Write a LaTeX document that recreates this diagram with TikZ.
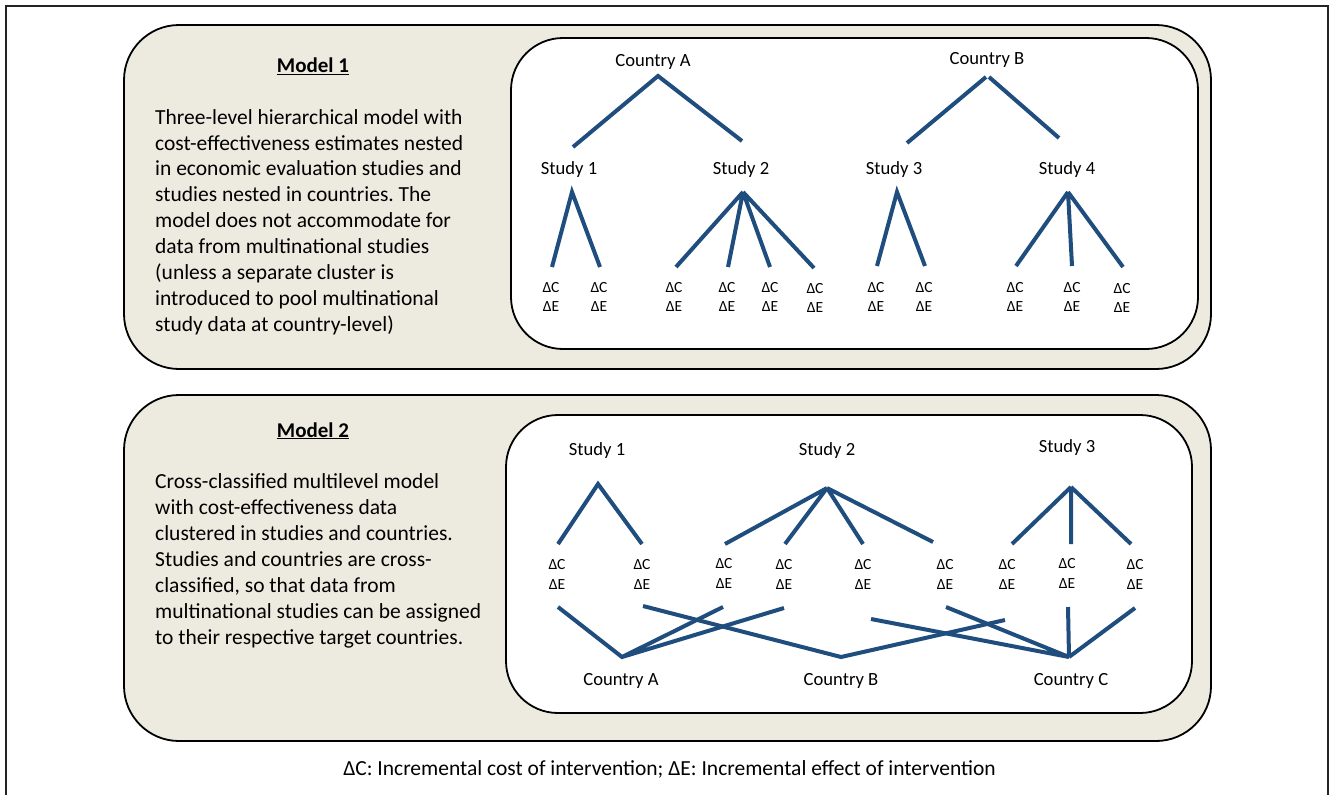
\documentclass[tikz,border=0pt]{standalone}
\usepackage{fontspec}
\setmainfont{Carlito}
\frenchspacing
\definecolor{beige}{RGB}{237,235,224}
\definecolor{treeblue}{RGB}{31,78,126}
\definecolor{framegray}{RGB}{35,35,35}
\tikzset{
  panel/.style={draw=black, line width=1.8pt, fill=beige, rounded corners=55pt},
  innerpanel/.style={draw=black, line width=1.8pt, fill=white, rounded corners=52pt},
  branch/.style={draw=treeblue, line width=4pt},
  lab/.style={font=\fontsize{18.6}{22}\selectfont, inner sep=0pt, anchor=base},
  delta/.style={font=\fontsize{15.5}{19.5}\selectfont, align=center, inner sep=0pt, anchor=center},
  body/.style={font=\fontsize{21.5}{25.9}\selectfont, align=left, inner sep=0pt, anchor=north west},
  ttl/.style={font=\fontsize{21}{25}\selectfont\bfseries, inner sep=0pt, anchor=base},
  caption/.style={font=\fontsize{21.5}{25}\selectfont, inner sep=0pt, anchor=base},
}
\begin{document}
\begin{tikzpicture}[x=1pt,y=-1pt]
\useasboundingbox (0,0) rectangle (1329,795);
% outer frame
\draw[framegray, line width=2pt] (6,795) -- (6,6) -- (1328,6) -- (1328,795);

% ---------------- Model 1 ----------------
\draw[panel] (124,25) rectangle (1211,369);
\draw[innerpanel] (511,38) rectangle (1198,349);
\node[ttl] (t1) at (313,72.5) {\underline{Model 1}};
\node[body] (b1) at (155,109) {Three-level hierarchical model with\\
cost-effectiveness estimates nested\\
in economic evaluation studies and\\
studies nested in countries. The\\
model does not accommodate for\\
data from multinational studies\\
(unless a separate cluster is\\
introduced to pool multinational\\
study data at country-level)};

\node[lab] (cA) at (653,66) {Country A};
\node[lab] (cB) at (987,64) {Country B};
\node[lab] (s1) at (569,174) {Study 1};
\node[lab] (s2) at (741,174) {Study 2};
\node[lab] (s3) at (894,174) {Study 3};
\node[lab] (s4) at (1067,174) {Study 4};

\coordinate (cAx) at (658,76);
\coordinate (cBxl) at (986,77);
\coordinate (cBxr) at (989,77);
\coordinate (s1u) at (573,147);
\coordinate (s2u) at (742,141);
\coordinate (s3u) at (907,143);
\coordinate (s4u) at (1059,138);
\draw[branch] (s1u) -- (cAx) -- (s2u);
\draw[branch] (s3u) -- (cBxl);
\draw[branch] (cBxr) -- (s4u);

\coordinate (s1x) at (572,192);
\coordinate (s2x) at (743,192);
\coordinate (s3x) at (897,192);
\coordinate (s4x) at (1068,192);
\coordinate (e1) at (552,267);
\coordinate (e2) at (600,267);
\coordinate (e3) at (676,267);
\coordinate (e4) at (728,267);
\coordinate (e5) at (770,267);
\coordinate (e6) at (814,268);
\coordinate (e7) at (877,266);
\coordinate (e8) at (925,266);
\coordinate (e9) at (1016,266);
\coordinate (e10) at (1072,266);
\coordinate (e11) at (1123,267);
\draw[branch] (e1) -- (s1x) -- (e2);
\draw[branch] (s2x) -- (e3) (s2x) -- (e4) (s2x) -- (e5) (s2x) -- (e6);
\draw[branch] (e7) -- (s3x) -- (e8);
\draw[branch] (s4x) -- (e9) (s4x) -- (e10) (s4x) -- (e11);

\node[delta] (d1) at (551,297) {ΔC\\ΔE};
\node[delta] (d2) at (599,297) {ΔC\\ΔE};
\node[delta] (d3) at (674,297) {ΔC\\ΔE};
\node[delta] (d4) at (727,297) {ΔC\\ΔE};
\node[delta] (d5) at (770,297) {ΔC\\ΔE};
\node[delta] (d6) at (815,298) {ΔC\\ΔE};
\node[delta] (d7) at (876,297) {ΔC\\ΔE};
\node[delta] (d8) at (924,297) {ΔC\\ΔE};
\node[delta] (d9) at (1015,297) {ΔC\\ΔE};
\node[delta] (d10) at (1072,297) {ΔC\\ΔE};
\node[delta] (d11) at (1122,298) {ΔC\\ΔE};

% ---------------- Model 2 ----------------
\draw[panel] (124,395) rectangle (1211,741);
\draw[innerpanel] (506,415) rectangle (1192,713);
\node[ttl] (t2) at (313,437) {\underline{Model 2}};
\node[body] (b2) at (155,473.5) {Cross-classified multilevel model\\
with cost-effectiveness data\\
clustered in studies and countries.\\
Studies and countries are cross-\\
classified, so that data from\\
multinational studies can be assigned\\
to their respective target countries.};

\node[lab] (m1) at (597,455) {Study 1};
\node[lab] (m2) at (827,455) {Study 2};
\node[lab] (m3) at (1067,452) {Study 3};
\node[lab] (kA) at (621,685) {Country A};
\node[lab] (kB) at (841,685) {Country B};
\node[lab] (kC) at (1071,685) {Country C};

\coordinate (p1) at (598,484);
\coordinate (p2) at (827,488);
\coordinate (p3) at (1071,487);
\coordinate (l1) at (558,544);
\coordinate (l2) at (642,544);
\coordinate (l3) at (725,544);
\coordinate (l4) at (785,544);
\coordinate (l5) at (863,544);
\coordinate (l6) at (933,542);
\coordinate (l7) at (1012,544);
\coordinate (l8) at (1071,544);
\coordinate (l9) at (1131,544);
\draw[branch] (l1) -- (p1) -- (l2);
\draw[branch] (p2) -- (l3) (p2) -- (l4) (p2) -- (l5) (p2) -- (l6);
\draw[branch] (p3) -- (l7) (p3) -- (l8) (p3) -- (l9);

\node[delta] (f1) at (557,574.5) {ΔC\\ΔE};
\node[delta] (f2) at (642,574.5) {ΔC\\ΔE};
\node[delta] (f3) at (724,573.5) {ΔC\\ΔE};
\node[delta] (f4) at (784,574.5) {ΔC\\ΔE};
\node[delta] (f5) at (863,574.5) {ΔC\\ΔE};
\node[delta] (f6) at (945,574.5) {ΔC\\ΔE};
\node[delta] (f7) at (1007,574.5) {ΔC\\ΔE};
\node[delta] (f8) at (1067,573.5) {ΔC\\ΔE};
\node[delta] (f9) at (1135,574.5) {ΔC\\ΔE};

\coordinate (g1) at (558,607);
\coordinate (g2) at (643,606);
\coordinate (g3) at (723,607);
\coordinate (g4) at (784,608);
\coordinate (g5) at (871,619);
\coordinate (g6) at (946,607);
\coordinate (g7) at (1005,620);
\coordinate (g8) at (1068,607);
\coordinate (g9) at (1135,608);
\coordinate (qA) at (622,657);
\coordinate (qB) at (841,657);
\coordinate (qC) at (1069,657);
\draw[branch] (g1) -- (qA) -- (g3) (qA) -- (g4);
\draw[branch] (g2) -- (qB) -- (g7);
\draw[branch] (g5) -- (qC) (g6) -- (qC) (g8) -- (qC) (g9) -- (qC);

\node[caption] (cap) at (669.5,775) {ΔC: Incremental cost of intervention; ΔE: Incremental effect of intervention};
\end{tikzpicture}
\end{document}
